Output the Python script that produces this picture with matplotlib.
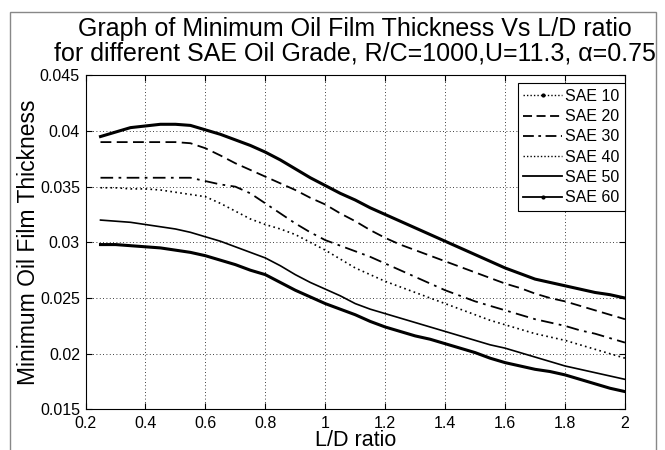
import matplotlib
matplotlib.use("Agg")
import matplotlib.pyplot as plt
from matplotlib.lines import Line2D
from matplotlib.patches import Rectangle
from matplotlib.ticker import FormatStrFormatter, MultipleLocator

plt.rcParams['font.family'] = ['Liberation Sans', 'DejaVu Sans']

# L/D ratio
ld = [0.25, 0.30, 0.35, 0.40, 0.45, 0.50, 0.55, 0.60, 0.65, 0.70, 0.75, 0.80,
      0.85, 0.90, 0.95, 1.00, 1.05, 1.10, 1.15, 1.20, 1.25, 1.30, 1.35, 1.40,
      1.45, 1.50, 1.55, 1.60, 1.65, 1.70, 1.75, 1.80, 1.85, 1.90, 1.95, 2.00]

sae10 = [.0395, .0399, .0403, .04045, .0406, .0406, .0405, .0401, .0397, .0392, .0387, .0381,
         .0374, .0366, .0358, .0351, .0344, .0338, .0331, .0325, .0319, .0313, .0307, .0301,
         .0295, .0289, .0283, .0277, .0272, .0267, .0264, .0261, .0258, .0255, .0253, .0250]
sae20 = [.0390, .0390, .0390, .0390, .0390, .0390, .0389, .03845, .0378, .0371, .0365, .0359,
         .0353, .0347, .0340, .0334, .0326, .0319, .0311, .0304, .0298, .0293, .0288, .0283,
         .0278, .0273, .0268, .0263, .0259, .0254, .0250, .0247, .0243, .0239, .0235, .0231]
sae30 = [.0358, .0358, .0358, .0358, .0358, .0358, .0358, .0355, .0352, .0350, .0344, .0335,
         .0326, .0317, .0309, .0302, .0297, .0292, .0287, .0281, .0275, .0269, .0263, .0257,
         .0252, .0247, .0243, .0239, .0235, .0231, .0228, .0225, .0221, .0218, .0214, .0210]
sae40 = [.0349, .0349, .0348, .0348, .0347, .0345, .0343, .0341, .0335, .0328, .0321, .0316,
         .0312, .0307, .0300, .0293, .0285, .0277, .0271, .0265, .0260, .0255, .0250, .0245,
         .0240, .0235, .0230, .0226, .0222, .0218, .0215, .0212, .0208, .0204, .0200, .0196]
sae50 = [.0320, .0319, .0318, .0316, .0314, .0312, .0309, .0305, .0301, .0296, .0291, .0286,
         .0279, .0271, .0264, .0258, .0252, .0245, .0240, .0236, .0232, .0228, .0224, .0220,
         .0216, .0212, .0208, .0205, .0201, .0197, .0193, .0189, .0186, .0183, .0180, .0177]
sae60 = [.0298, .0298, .0297, .0296, .0295, .0293, .0291, .0288, .0284, .0280, .0275, .0271,
         .0264, .0257, .0251, .0245, .0240, .0235, .0229, .0224, .0220, .0216, .0213, .0209,
         .0205, .0201, .0196, .0192, .0189, .0186, .0184, .0181, .0177, .0173, .0169, .0166]

fig = plt.figure(figsize=(6.65, 4.5), dpi=100)
ax = fig.add_axes([0.1286, 0.0902, 0.8112, 0.7425])

# thick marker lines drawn as heavy solid strokes
ax.plot(ld, sae10, color='k', lw=2.2)
ax.plot(ld, sae20, color='k', lw=1.3, ls=(0, (6, 3)))
ax.plot(ld, sae30, color='k', lw=1.3, ls=(0, (7, 3, 1.5, 3)))
ax.plot(ld, sae40, color='k', lw=1.2, ls=(0, (1, 2)))
ax.plot(ld, sae50, color='k', lw=1.2)
ax.plot(ld, sae60, color='k', lw=2.2)

handles = [
    Line2D([], [], color='k', lw=1, ls=(0, (1, 1.5)), marker='.', markersize=4, markevery=[1]),
    Line2D([], [], color='k', lw=1.3, ls=(0, (5, 2.5))),
    Line2D([], [], color='k', lw=1.3, ls=(0, (6, 2.5, 1.5, 2.5))),
    Line2D([], [], color='k', lw=1, ls=(0, (1, 1.5))),
    Line2D([], [], color='k', lw=1.3),
    Line2D([], [], color='k', lw=1.3, marker='.', markersize=4, markevery=[1]),
]
labels = ['SAE 10', 'SAE 20', 'SAE 30', 'SAE 40', 'SAE 50', 'SAE 60']
leg = ax.legend(handles, labels, loc='upper right', fontsize=11.5, fancybox=False,
                framealpha=1, edgecolor='k', handlelength=2.4, handletextpad=0.2,
                labelspacing=0.33, borderpad=0.35, borderaxespad=0.0,
                bbox_to_anchor=(1.0, 0.976))
leg.get_frame().set_linewidth(0.8)

ax.set_xlim(0.2, 2)
ax.set_ylim(0.015, 0.045)
ax.xaxis.set_major_locator(MultipleLocator(0.2))
ax.yaxis.set_major_locator(MultipleLocator(0.005))
ax.xaxis.set_major_formatter(FormatStrFormatter('%g'))
ax.yaxis.set_major_formatter(FormatStrFormatter('%g'))
ax.tick_params(direction='in', top=True, right=True, labelsize=11.5, length=4)
ax.tick_params(axis='x', pad=5)
ax.tick_params(axis='y', pad=4)
ax.grid(True, color='k', ls=(0, (1, 3)), lw=0.6)
for s in ax.spines.values():
    s.set_linewidth(0.8)

ax.set_xlabel('L/D ratio', fontsize=15.5, labelpad=-1)
ax.set_ylabel('Minimum Oil Film Thickness', fontsize=16.5, labelpad=0)
ax.set_title('Graph of Minimum Oil Film Thickness Vs L/D ratio\n'
             'for different SAE Oil Grade, R/C=1000,U=11.3, \u03b1=0.75',
             fontsize=18, linespacing=1.0, pad=11)

fig.patches.append(Rectangle((10 / 665, -0.01), 646 / 665, 0.983, transform=fig.transFigure,
                             fill=False, edgecolor='#888888', lw=1))

fig.savefig('out.png', dpi=100)
